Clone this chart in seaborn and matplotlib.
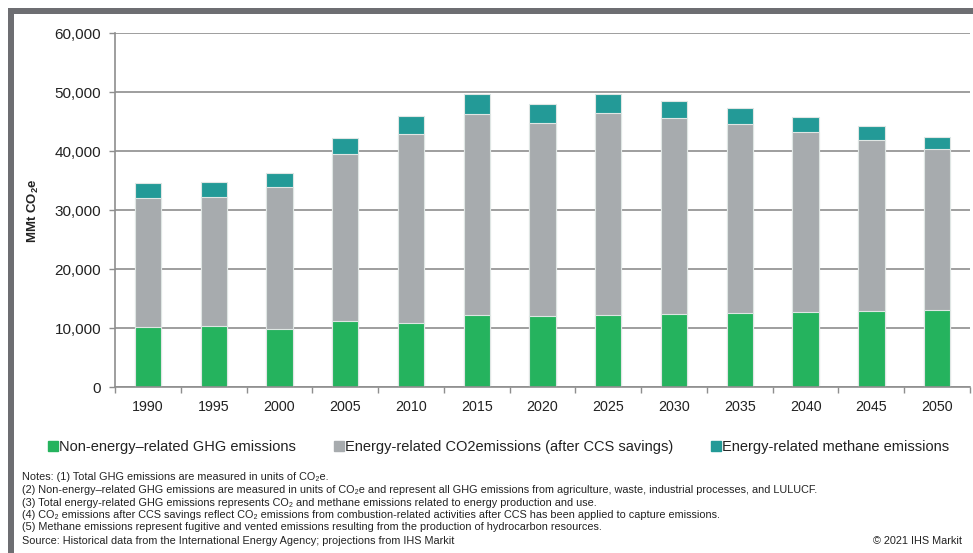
# Stacked GHG emissions by year, IHS Markit style
import numpy as np
import pandas as pd
import seaborn as sns
import matplotlib.pyplot as plt
from matplotlib.lines import Line2D
from matplotlib.patches import Rectangle
from matplotlib.ticker import FuncFormatter

# %%
# data (MMt CO2e)
years = ['1990', '1995', '2000', '2005', '2010', '2015', '2020',
         '2025', '2030', '2035', '2040', '2045', '2050']
non_energy = [10290, 10460, 9950, 11260, 10970, 12280, 12100,
              12330, 12500, 12670, 12840, 13010, 13070]
energy_co2 = [21730, 21800, 24060, 28350, 32030, 34120, 32720,
              34240, 33170, 31980, 30510, 28980, 27390]
methane = [2550, 2540, 2320, 2660, 2940, 3280, 3230,
           3110, 2890, 2650, 2490, 2320, 2040]

labels = ['Non-energy\u2013related GHG emissions',
          'Energy-related CO2emissions (after CCS savings)',
          'Energy-related methane emissions']

notes = ['Notes: (1) Total GHG emissions are measured in units of CO\u2082e.',
         '(2) Non-energy\u2013related GHG emissions are measured in units of CO\u2082e and represent all GHG emissions from agriculture, waste, industrial processes, and LULUCF.',
         '(3) Total energy-related GHG emissions represents CO\u2082 and methane emissions related to energy production and use.',
         '(4) CO\u2082 emissions after CCS savings reflect CO\u2082 emissions from combustion-related activities after CCS has been applied to capture emissions.',
         '(5) Methane emissions represent fugitive and vented emissions resulting from the production of hydrocarbon resources.',
         'Source: Historical data from the International Energy Agency; projections from IHS Markit']

green = '#25b35e'
grey = '#a7abae'
teal = '#239a97'
line_col = '#8e8e8e'

# %%
df = pd.DataFrame({'year': years, 'non_energy': non_energy,
                   'energy_co2': energy_co2, 'methane': methane})
df['lvl2'] = df['non_energy'] + df['energy_co2']
df['total'] = df['lvl2'] + df['methane']

sns.set_theme(style='white')
plt.rcParams['font.family'] = ['Liberation Sans', 'DejaVu Sans']
plt.rcParams['mathtext.fontset'] = 'custom'
plt.rcParams['mathtext.rm'] = 'Liberation Sans'
plt.rcParams['mathtext.bf'] = 'Liberation Sans:bold'

fig = plt.figure(figsize=(9.73, 5.53), dpi=100)
ax = fig.add_axes([115/973, 1-387.3/553, 855/973, 354/553])

bar_kw = dict(x='year', width=0.4, saturation=1, edgecolor='#dfe6e4',
              linewidth=0.8, ax=ax, order=years)
sns.barplot(data=df, y='total', color=teal, **bar_kw)
sns.barplot(data=df, y='lvl2', color=grey, **bar_kw)
sns.barplot(data=df, y='non_energy', color=green, **bar_kw)

ax.set_ylim(0, 60000)
ax.set_xlim(-0.5, len(years) - 0.5)
ax.set_yticks(np.arange(0, 60001, 10000))
ax.yaxis.set_major_formatter(FuncFormatter(lambda v, p: f'{int(v):,}'))
ax.grid(axis='y', color=line_col, linewidth=1.2)
ax.set_axisbelow(True)
for s in ['top', 'right']:
    ax.spines[s].set_visible(False)
for s in ['left', 'bottom']:
    ax.spines[s].set_color(line_col)
    ax.spines[s].set_linewidth(1.2)

ax.tick_params(axis='y', length=4, width=1, color=line_col, direction='out',
               pad=6, labelsize=11, labelcolor='#222222', left=True)
ax.tick_params(axis='x', which='major', length=0, pad=9, labelsize=10.3,
               labelcolor='#222222')
ax.set_xticks(np.arange(-0.5, len(years), 1), minor=True)
ax.tick_params(axis='x', which='minor', length=4, width=1, color=line_col,
               direction='out', bottom=True)
ax.set_xlabel('')
ax.set_ylabel('MMt CO$_\\mathbf{2}$e', fontsize=9.5, fontweight='bold',
              color='#222222')
ax.yaxis.set_label_coords(-0.086, 0.5)

# legend
handles = [Line2D([], [], marker='s', linestyle='', color=c, markersize=7.5)
           for c in [green, grey, teal]]
fig.legend(handles, labels, loc='center', bbox_to_anchor=(499/973, 1-447/553),
           ncol=3, frameon=False, fontsize=10.5, handlelength=0.6,
           handletextpad=0.15, columnspacing=2.6, labelcolor='#222222')

# notes
note_y = [477, 490, 502.5, 514.5, 527, 541.5]
for t, y in zip(notes, note_y):
    fig.text(22/973, 1-y/553, t, fontsize=7.8, va='center', ha='left',
             color='#222222')
fig.text(962/973, 1-541.5/553, '\u00a9 2021 IHS Markit', fontsize=7.8,
         va='center', ha='right', color='#222222')

# frame at top and left
fig.add_artist(Rectangle((8/973, 0), 5.5/973, 1-8/553,
                         transform=fig.transFigure, color='#6d6e72', lw=0))
fig.add_artist(Rectangle((8/973, 1-13.5/553), 1, 5.5/553,
                         transform=fig.transFigure, color='#6d6e72', lw=0))

fig.savefig('out.png', dpi=100)
